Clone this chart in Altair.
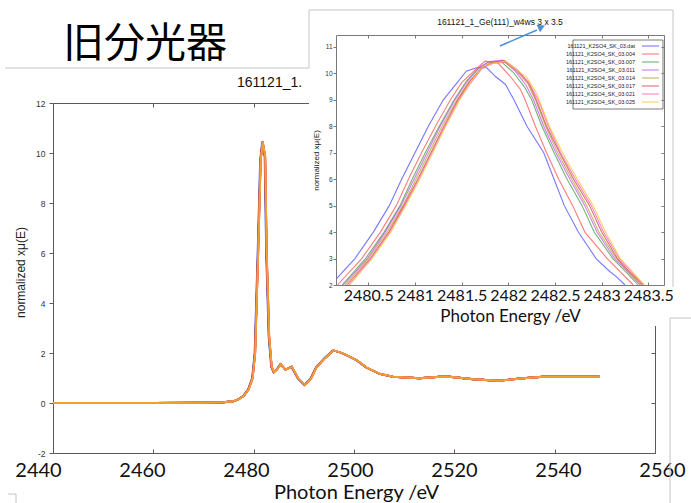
import altair as alt
import pandas as pd

SLIDE_TITLE = "旧分光器"
PLOT_TITLE = "161121_1_Ge(111)_w4ws 3 x 3.5"
X_TITLE = "Photon Energy /eV"
Y_TITLE = "normalized xμ(E)"

SERIES = [
    "161121_K2SO4_SK_03.dat",
    "161121_K2SO4_SK_03.004",
    "161121_K2SO4_SK_03.007",
    "161121_K2SO4_SK_03.011",
    "161121_K2SO4_SK_03.014",
    "161121_K2SO4_SK_03.017",
    "161121_K2SO4_SK_03.021",
    "161121_K2SO4_SK_03.025",
]
INSET_COLORS = ["#5555ff", "#ff5a5a", "#4ea04e", "#c35cf0", "#b4a445", "#d24c4c", "#ff66b8", "#ffc23c"]
MAIN_COLORS = ["#4a3adb", "#e8423f", "#2e8b2e", "#9a2fd0", "#ff8c00", "#c0503a", "#ff5d8a", "#f0a030"]

# main spectrum
MAIN_E = [2440, 2450, 2460, 2470, 2474, 2476, 2477, 2478, 2479, 2479.8, 2480.3, 2480.9,
          2481.4, 2481.8, 2482.3, 2482.6, 2483.1, 2483.6, 2484.05, 2484.7, 2485.4, 2486.4,
          2487.6, 2488.9, 2490.2, 2491.5, 2492.5, 2494.2, 2495.9, 2497.2, 2498.5, 2500.5,
          2502.5, 2505.2, 2507.8, 2513.1, 2517.1, 2519.1, 2523.8, 2528.8, 2533.7, 2537.7, 2549.0]
MAIN_V = [0, 0, 0, 0.01, 0.03, 0.07, 0.15, 0.28, 0.55, 1.0, 2.0, 6.0,
          9.7, 10.45, 9.85, 6.0, 2.65, 1.45, 1.23, 1.35, 1.55, 1.33,
          1.45, 0.98, 0.72, 1.0, 1.42, 1.79, 2.1, 2.03, 1.92, 1.72,
          1.42, 1.16, 1.05, 0.99, 1.05, 1.05, 0.95, 0.89, 0.99, 1.05, 1.05]
MAIN_SHIFT = [-0.12, -0.05, -0.03, -0.02, -0.01, 0.00, 0.01, 0.02]

# inset (zoom on the white line)
E_DAT = [2480.155, 2480.357, 2480.554, 2480.725, 2480.857, 2481.000, 2481.143, 2481.304, 2481.45, 2481.55,
         2481.66, 2481.77, 2481.86, 2481.97, 2482.06, 2482.20, 2482.38, 2482.49, 2482.60, 2482.75,
         2482.94, 2483.09, 2483.16, 2483.25]
V_DAT = [2.22, 3, 4, 5, 6, 7, 8, 9, 9.64, 10.08, 10.21, 10.21, 9.89, 9.58, 9, 8, 7, 6, 5, 4, 3, 2.5, 2.31, 2]
E_004 = [2480.17, 2480.43, 2480.63, 2480.80, 2480.93, 2481.07, 2481.22, 2481.38, 2481.50, 2481.63,
         2481.75, 2481.89, 2482.02, 2482.13, 2482.18, 2482.29, 2482.41, 2482.54, 2482.69, 2482.82,
         2483.06, 2483.20, 2483.34]
V_004 = [2, 3, 4, 5, 6, 7, 8, 9, 9.65, 10.08, 10.46, 10.39, 9.89, 9.39, 9, 8, 7, 6, 5, 4, 3, 2.5, 2]
E_007 = [2480.22, 2480.47, 2480.67, 2480.84, 2480.97, 2481.11, 2481.26, 2481.42, 2481.55, 2481.68,
         2481.78, 2481.92, 2482.05, 2482.17, 2482.25, 2482.36, 2482.49, 2482.63, 2482.79, 2482.92,
         2483.12, 2483.26, 2483.39]
V_007 = [2, 3, 4, 5, 6, 7, 8, 9, 9.7, 10.2, 10.42, 10.45, 10.05, 9.5, 9, 8, 7, 6, 5, 4, 3, 2.5, 2]
E_011 = [2480.23, 2480.49, 2480.68, 2480.85, 2480.99, 2481.13, 2481.27, 2481.43, 2481.56, 2481.70,
         2481.80, 2481.94, 2482.07, 2482.19, 2482.27, 2482.38, 2482.51, 2482.66, 2482.82, 2482.95,
         2483.14, 2483.28, 2483.41]
V_011 = [2, 3, 4, 5, 6, 7, 8, 9, 9.7, 10.25, 10.45, 10.5, 10.1, 9.55, 9, 8, 7, 6, 5, 4, 3, 2.5, 2]
E_014 = [2480.25, 2480.50, 2480.70, 2480.87, 2481.01, 2481.15, 2481.29, 2481.45, 2481.57, 2481.71,
         2481.82, 2481.95, 2482.08, 2482.21, 2482.29, 2482.40, 2482.53, 2482.68, 2482.84, 2482.97,
         2483.16, 2483.29, 2483.42]
V_014 = [2, 3, 4, 5, 6, 7, 8, 9, 9.65, 10.2, 10.4, 10.45, 10.12, 9.6, 9, 8, 7, 6, 5, 4, 3, 2.5, 2]
E_017 = [2480.27, 2480.52, 2480.72, 2480.88, 2481.03, 2481.17, 2481.31, 2481.46, 2481.58, 2481.72,
         2481.83, 2481.96, 2482.09, 2482.22, 2482.30, 2482.41, 2482.55, 2482.70, 2482.87, 2483.00,
         2483.17, 2483.30, 2483.44]
V_017 = [2, 3, 4, 5, 6, 7, 8, 9, 9.65, 10.22, 10.42, 10.48, 10.15, 9.62, 9, 8, 7, 6, 5, 4, 3, 2.5, 2]
E_021 = [2480.29, 2480.53, 2480.73, 2480.89, 2481.04, 2481.18, 2481.32, 2481.47, 2481.59, 2481.72,
         2481.84, 2481.97, 2482.09, 2482.22, 2482.32, 2482.43, 2482.56, 2482.72, 2482.89, 2483.02,
         2483.19, 2483.32, 2483.45]
V_021 = [2, 3, 4, 5, 6, 7, 8, 9, 9.6, 10.2, 10.38, 10.42, 10.12, 9.65, 9, 8, 7, 6, 5, 4, 3, 2.5, 2]
E_025 = [2480.30, 2480.54, 2480.74, 2480.90, 2481.05, 2481.19, 2481.33, 2481.48, 2481.60, 2481.73,
         2481.84, 2481.97, 2482.09, 2482.20, 2482.30, 2482.33, 2482.44, 2482.58, 2482.74, 2482.91,
         2483.04, 2483.20, 2483.33, 2483.46]
V_025 = [2, 3, 4, 5, 6, 7, 8, 9, 9.7, 10.27, 10.39, 10.46, 10.14, 9.83, 9.27, 9, 8, 7, 6, 5, 4, 3, 2.5, 2]
INSET_E = [E_DAT, E_004, E_007, E_011, E_014, E_017, E_021, E_025]
INSET_V = [V_DAT, V_004, V_007, V_011, V_014, V_017, V_021, V_025]

MAIN_X_TICKS = [2440, 2460, 2480, 2500, 2520, 2540, 2560]
MAIN_Y_TICKS = [-2, 0, 2, 4, 6, 8, 10, 12]
INSET_X_TICKS = [2480.5, 2481, 2481.5, 2482, 2482.5, 2483, 2483.5]
INSET_Y_TICKS = [2, 3, 4, 5, 6, 7, 8, 9, 10, 11]
MAIN_X_DOMAIN = [2440, 2560]
MAIN_Y_DOMAIN = [-2, 12]
INSET_X_DOMAIN = [2480.154, 2483.668]
INSET_Y_DOMAIN = [2, 11.45]

# ---- tables ----
rows = []
for s, name in enumerate(SERIES):
    for i, (e, v) in enumerate(zip(MAIN_E, MAIN_V)):
        rows.append({"series": name, "idx": i, "E": e + MAIN_SHIFT[s], "V": v})
main_df = pd.DataFrame(rows)

rows = []
for s, name in enumerate(SERIES):
    for i, (e, v) in enumerate(zip(INSET_E[s], INSET_V[s])):
        rows.append({"series": name, "idx": i, "E": e, "V": v})
inset_df = pd.DataFrame(rows)

main_frame_df = pd.DataFrame({"E": MAIN_X_DOMAIN, "V": MAIN_Y_DOMAIN})
inset_frame_df = pd.DataFrame({"E": INSET_X_DOMAIN, "V": INSET_Y_DOMAIN})
legend_df = pd.DataFrame({"series": SERIES})
ONE = alt.Data(values=[{"k": 0}])

FRAME_M = "#5a5a5a"
FRAME_I = "#7a7a7a"
BOX = "#c4c4c4"
LBL = "'' + datum.value"

main_x = alt.Scale(domain=MAIN_X_DOMAIN, range=[53, 655], nice=False, zero=False, clamp=True)
main_y = alt.Scale(domain=MAIN_Y_DOMAIN, range=[453, 103], nice=False, zero=False)
main_x_lbl = alt.Scale(domain=MAIN_X_DOMAIN, range=[38, 662], nice=False, zero=False)
inset_x = alt.Scale(domain=INSET_X_DOMAIN, range=[336, 664], nice=False, zero=False)
inset_y = alt.Scale(domain=INSET_Y_DOMAIN, range=[285, 35], nice=False, zero=False)
leg_y = alt.Scale(type="point", domain=SERIES, range=[46, 102], padding=0)


def hrule(y, x1, x2, color=BOX, w=1.0):
    return alt.Chart(ONE).mark_rule(color=color, strokeWidth=w).encode(
        x=alt.value(x1), x2=alt.value(x2), y=alt.value(y))


def vrule(x, y1, y2, color=BOX, w=1.0):
    return alt.Chart(ONE).mark_rule(color=color, strokeWidth=w).encode(
        x=alt.value(x), y=alt.value(y1), y2=alt.value(y2))


# ---- main chart ----
main_lines = alt.Chart(main_df).mark_line(strokeWidth=1.8).encode(
    x=alt.X("E:Q", scale=main_x, axis=alt.Axis(
        orient="top", offset=-453, values=MAIN_X_TICKS, labels=False, title=None,
        tickSize=4, domainColor=FRAME_M, tickColor=FRAME_M, grid=False)),
    y=alt.Y("V:Q", scale=main_y, axis=alt.Axis(
        orient="left", offset=-53, values=MAIN_Y_TICKS, labelExpr=LBL,
        labelFontSize=8.5, labelColor="#333", tickSize=4, labelPadding=4,
        domainColor=FRAME_M, tickColor=FRAME_M, grid=False,
        title=Y_TITLE, titleFontSize=12, titleColor="#222", titleX=-33, titleY=272,
        titleAlign="center", titleBaseline="middle")),
    color=alt.Color("series:N", scale=alt.Scale(domain=SERIES, range=MAIN_COLORS), legend=None),
    order=alt.Order("idx:Q"),
)

main_frame = alt.Chart(main_frame_df).mark_point(opacity=0).encode(
    x=alt.X("E:Q", scale=main_x, axis=alt.Axis(
        orient="bottom", offset=-400, values=MAIN_X_TICKS, labels=False, title=None,
        tickSize=4, domainColor=FRAME_M, tickColor=FRAME_M, grid=False)),
    y=alt.Y("V:Q", scale=main_y, axis=alt.Axis(
        orient="left", offset=-655, values=MAIN_Y_TICKS, labels=False, title=None,
        tickSize=4, domainColor=FRAME_M, tickColor=FRAME_M, grid=False)),
)

main_xlab = alt.Chart(main_frame_df).mark_point(opacity=0).encode(
    x=alt.X("E:Q", scale=main_x_lbl, axis=alt.Axis(
        orient="bottom", offset=-50, values=MAIN_X_TICKS, labelExpr=LBL,
        domain=False, ticks=False, grid=False, labelFont="Lato", labelFontSize=20,
        labelColor="#111", labelPadding=7, labelFlush=False, labelOverlap=False,
        title=X_TITLE, titleFont="Lato", titleFontSize=20, titleColor="#111",
        titleX=356, titleY=39, titleAlign="center", titleBaseline="middle")),
)

# only "161121_1." of this title shows; the inset covers the rest
main_title = alt.Chart(ONE).mark_text(
    align="left", baseline="middle", fontSize=14, font="Liberation Sans", color="#111",
    limit=68, ellipsis="."
).encode(x=alt.value(237), y=alt.value(83), text=alt.value(PLOT_TITLE))

cover = alt.Chart(ONE).mark_rect(color="white").encode(
    x=alt.value(309), x2=alt.value(673), y=alt.value(10), y2=alt.value(326))

# ---- inset ----
inset_lines = alt.Chart(inset_df).mark_line(strokeWidth=1.1, opacity=0.8).encode(
    x=alt.X("E:Q", scale=inset_x, axis=alt.Axis(
        orient="top", offset=-285, values=INSET_X_TICKS, labels=False, title=None,
        tickSize=3, domainColor=FRAME_I, tickColor=FRAME_I, grid=False, zindex=1)),
    y=alt.Y("V:Q", scale=inset_y, axis=alt.Axis(
        orient="left", offset=-336, values=INSET_Y_TICKS, labelExpr=LBL,
        labelFontSize=6.5, labelColor="#333", tickSize=3, labelPadding=1,
        domainColor=FRAME_I, tickColor=FRAME_I, grid=False, zindex=1,
        title=Y_TITLE, titleFontSize=8, titleColor="#222", titleX=-20, titleY=160,
        titleAlign="center", titleBaseline="middle")),
    color=alt.Color("series:N", scale=alt.Scale(domain=SERIES, range=INSET_COLORS), legend=None),
    order=alt.Order("idx:Q"),
)

inset_frame = alt.Chart(inset_frame_df).mark_point(opacity=0).encode(
    x=alt.X("E:Q", scale=inset_x, axis=alt.Axis(
        orient="bottom", offset=-468, values=INSET_X_TICKS, labels=False, title=None,
        tickSize=3, domainColor=FRAME_I, tickColor=FRAME_I, grid=False, zindex=1)),
    y=alt.Y("V:Q", scale=inset_y, axis=alt.Axis(
        orient="left", offset=-664, values=INSET_Y_TICKS, labels=False, title=None,
        tickSize=3, domainColor=FRAME_I, tickColor=FRAME_I, grid=False, zindex=1)),
)

inset_xlab = alt.Chart(inset_frame_df).mark_point(opacity=0).encode(
    x=alt.X("E:Q", scale=inset_x, axis=alt.Axis(
        orient="bottom", offset=-218, values=INSET_X_TICKS, labelExpr=LBL,
        domain=False, ticks=False, grid=False, zindex=1, labelFont="Lato", labelFontSize=16,
        labelColor="#111", labelPadding=2, labelFlush=False, labelOverlap=False,
        title=X_TITLE, titleFont="Lato", titleFontSize=17, titleColor="#111",
        titleX=510, titleY=31, titleAlign="center", titleBaseline="middle")),
)

legend_box = alt.Chart(ONE).mark_rect(fill="white", stroke="#444", strokeWidth=0.7).encode(
    x=alt.value(573), x2=alt.value(663), y=alt.value(40), y2=alt.value(109))
legend_text = alt.Chart(legend_df).mark_text(
    align="right", baseline="middle", fontSize=5.5, font="Liberation Sans", color="#222"
).encode(x=alt.value(635), y=alt.Y("series:N", scale=leg_y, axis=None), text="series:N")
legend_lines = alt.Chart(legend_df).mark_rule(strokeWidth=1.1, opacity=0.8).encode(
    x=alt.value(642), x2=alt.value(659),
    y=alt.Y("series:N", scale=leg_y, axis=None),
    color=alt.Color("series:N", scale=alt.Scale(domain=SERIES, range=INSET_COLORS), legend=None),
)

inset_title = alt.Chart(ONE).mark_text(
    align="center", baseline="middle", fontSize=8.5, font="Liberation Sans", color="#111"
).encode(x=alt.value(500), y=alt.value(22), text=alt.value(PLOT_TITLE))

arrow_line = alt.Chart(ONE).mark_rule(color="#4f8fd6", strokeWidth=1.5).encode(
    x=alt.value(500), y=alt.value(46), x2=alt.value(537), y2=alt.value(30))
arrow_head = alt.Chart(ONE).mark_point(
    shape="triangle", filled=True, size=70, angle=66, color="#4f8fd6", opacity=1
).encode(x=alt.value(540.5), y=alt.value(27.5))

slide_title = alt.Chart(ONE).mark_text(
    align="left", baseline="middle", fontSize=41, font="Noto Sans CJK JP", color="#000"
).encode(x=alt.value(63), y=alt.value(45), text=alt.value(SLIDE_TITLE))

layers = [
    main_lines, main_frame, main_xlab, main_title,
    cover,
    inset_lines, inset_frame, inset_xlab,
    legend_box, legend_text, legend_lines,
    inset_title, arrow_line, arrow_head,
    slide_title,
    hrule(68, 5, 309), vrule(309, 10, 68), hrule(10, 309, 673), vrule(673, 10, 287),
    vrule(670, 318, 503), hrule(318, 670, 691),
    hrule(494, 8, 16), vrule(16, 494, 503),
]

chart = alt.layer(*layers).resolve_scale(
    x="independent", y="independent", color="independent"
).resolve_axis(
    x="independent", y="independent"
).properties(
    width=691, height=503, autosize=alt.AutoSizeParams(type="none"), padding=0, background="white"
).configure_view(stroke=None).configure_axis(
    grid=False, labelFont="Liberation Sans", titleFont="Liberation Sans", titleFontWeight="normal"
)

chart.save("out.html", embed_options={"renderer": "svg", "actions": False})
